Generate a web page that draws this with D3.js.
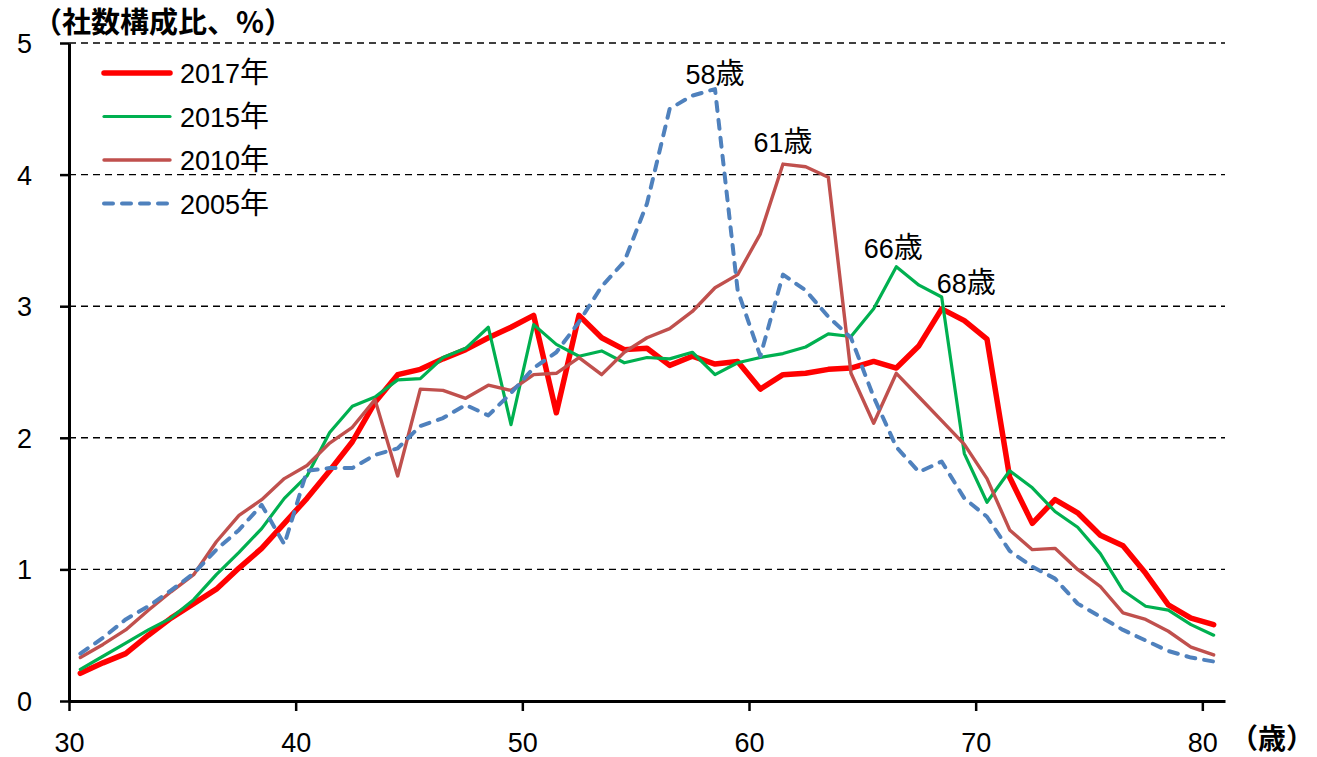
<!DOCTYPE html>
<html>
<head>
<meta charset="utf-8">
<script src="https://cdn.jsdelivr.net/npm/d3@7"></script>
<style>
  html, body { margin: 0; padding: 0; background: #fff; }
  svg { display: block; }
</style>
</head>
<body>
<svg id="chart" width="1317" height="757"></svg>
<script>
// ---- data ----
const ages = d3.range(30, 81);
const v2017 = [0.21,0.29,0.36,0.50,0.63,0.74,0.85,1.01,1.16,1.35,1.54,1.75,1.97,2.27,2.48,2.52,2.60,2.67,2.76,2.84,2.93,2.19,2.93,2.76,2.67,2.68,2.55,2.62,2.56,2.58,2.37,2.48,2.49,2.52,2.53,2.58,2.53,2.70,2.98,2.89,2.75,1.70,1.35,1.53,1.43,1.26,1.18,0.97,0.73,0.63,0.58];
const v2015 = [0.24,0.34,0.44,0.54,0.63,0.77,0.96,1.13,1.31,1.54,1.71,2.04,2.24,2.31,2.44,2.45,2.61,2.68,2.84,2.10,2.86,2.71,2.62,2.66,2.57,2.61,2.60,2.65,2.48,2.57,2.61,2.64,2.69,2.79,2.77,2.98,3.30,3.16,3.07,1.88,1.51,1.75,1.62,1.44,1.32,1.12,0.84,0.72,0.69,0.58,0.50];
const v2010 = [0.33,0.43,0.54,0.69,0.83,0.96,1.21,1.41,1.53,1.69,1.79,1.96,2.08,2.29,1.71,2.37,2.36,2.30,2.40,2.36,2.48,2.49,2.61,2.48,2.65,2.76,2.83,2.96,3.14,3.24,3.55,4.08,4.06,3.98,2.49,2.11,2.49,2.31,2.13,1.95,1.69,1.30,1.15,1.16,1.00,0.87,0.67,0.62,0.53,0.41,0.35];
const v2005 = [0.36,0.48,0.62,0.72,0.84,0.97,1.15,1.30,1.49,1.19,1.75,1.77,1.77,1.87,1.92,2.09,2.15,2.25,2.17,2.34,2.53,2.65,2.88,3.15,3.34,3.78,4.50,4.60,4.65,3.12,2.62,3.24,3.12,2.92,2.76,2.31,1.93,1.74,1.82,1.54,1.40,1.14,1.02,0.93,0.74,0.64,0.54,0.46,0.38,0.33,0.30];
const seriesNames = ["2017年", "2015年", "2010年", "2005年"];
const xTickValues = [30, 40, 50, 60, 70, 80];
const yTickValues = [0, 1, 2, 3, 4, 5];
const gridValues = [1, 2, 3, 4, 5];
const peakLabels = [
  { series: "2005年", age: 58, text: "58", unit: "歳" },
  { series: "2010年", age: 61, text: "61", unit: "歳" },
  { series: "2015年", age: 66, text: "66", unit: "歳" },
  { series: "2017年", age: 68, text: "68", unit: "歳" }
];
const yTitle = "（社数構成比、%）";
const xTitle = "（歳）";

// ---- styles ----
const styles = {
  "2017年": { color: "#FF0000", width: 5.5, dash: null },
  "2015年": { color: "#00B050", width: 3.2, dash: null },
  "2010年": { color: "#C0504D", width: 3.4, dash: null },
  "2005年": { color: "#4F81BD", width: 4, dash: "9,9" }
};
const valuesByName = { "2017年": v2017, "2015年": v2015, "2010年": v2010, "2005年": v2005 };
const latin = "'Liberation Sans', Arial, sans-serif";
const cjk = "'Noto Sans CJK JP', sans-serif";

const svg = d3.select("#chart");
const mLeft = 69, mRight = 1225, mTop = 43, mBottom = 701;
const x = d3.scaleLinear().domain([30, 81]).range([mLeft, mRight]);
const y = d3.scaleLinear().domain([0, 5]).range([mBottom, mTop]);

// gridlines
svg.append("g").selectAll("line").data(gridValues).join("line")
  .attr("x1", mLeft).attr("x2", mRight)
  .attr("y1", d => y(d)).attr("y2", d => y(d))
  .attr("stroke", "#000").attr("stroke-width", 1.4)
  .attr("stroke-dasharray", "7,5");

// series lines
const line = d3.line().x((d, i) => x(ages[i] + 0.5)).y(d => y(d));
const plot = svg.append("g");
seriesNames.forEach(name => {
  const s = styles[name];
  plot.append("path")
    .datum(valuesByName[name])
    .attr("d", line)
    .attr("fill", "none")
    .attr("stroke", s.color)
    .attr("stroke-width", s.width)
    .attr("stroke-linejoin", "round")
    .attr("stroke-linecap", "round")
    .attr("stroke-dasharray", s.dash);
});

// axes
const xAxis = svg.append("g").attr("transform", `translate(0,${mBottom})`)
  .call(d3.axisBottom(x).tickValues(xTickValues).tickSize(10).tickSizeOuter(0).tickFormat(d3.format("d")));
const yAxis = svg.append("g").attr("transform", `translate(${mLeft},0)`)
  .call(d3.axisLeft(y).tickValues(yTickValues).tickSize(9).tickSizeOuter(0).tickFormat(d3.format("d")));
[xAxis, yAxis].forEach(a => {
  a.select(".domain").attr("stroke", "#000").attr("stroke-width", 3);
  a.selectAll(".tick line").attr("stroke", "#000").attr("stroke-width", 2.5);
  a.selectAll(".tick text").attr("fill", "#000").style("font-family", latin).style("font-size", "27px");
});
xAxis.selectAll(".tick text").attr("y", 0).attr("dy", null).attr("transform", "translate(0,51)");
yAxis.selectAll(".tick text").attr("x", -37).attr("dy", "0.35em").attr("text-anchor", "end");

// mixed text helper: digits in latin font, CJK in CJK font
function mixed(g, xpos, ypos, digits, unit, anchor) {
  const t = g.append("text").attr("x", xpos).attr("y", ypos).attr("text-anchor", anchor || "start").attr("fill", "#000");
  t.append("tspan").style("font-family", latin).style("font-size", "27px").text(digits);
  t.append("tspan").style("font-family", cjk).style("font-size", "29px").text(unit);
  return t;
}

// legend
const legend = svg.append("g");
seriesNames.forEach((name, i) => {
  const s = styles[name];
  const ly = 73 + i * 43.5;
  legend.append("line").attr("x1", 104).attr("x2", 170).attr("y1", ly).attr("y2", ly)
    .attr("stroke", s.color).attr("stroke-width", s.width)
    .attr("stroke-linecap", "round").attr("stroke-dasharray", s.dash);
  mixed(legend, 180, ly + 10, name.replace("年", ""), "年", "start");
});

// peak annotations
const ann = svg.append("g");
const offsets = { 58: [0, -5, "middle"], 61: [0, -12, "middle"], 66: [-3, -9, "middle"], 68: [-5, -16, "start"] };
peakLabels.forEach(p => {
  const v = valuesByName[p.series][ages.indexOf(p.age)];
  const o = offsets[p.age];
  mixed(ann, x(p.age + 0.5) + o[0], y(v) + o[1], p.text, p.unit, o[2]);
});

// axis titles
svg.append("text").attr("x", 33).attr("y", 33)
  .style("font-family", cjk).style("font-size", "29px").style("font-weight", "bold")
  .text(yTitle);
svg.append("text").attr("x", 1314).attr("y", 749).attr("text-anchor", "end")
  .style("font-family", cjk).style("font-size", "28px").style("font-weight", "bold")
  .text(xTitle);
</script>
</body>
</html>
